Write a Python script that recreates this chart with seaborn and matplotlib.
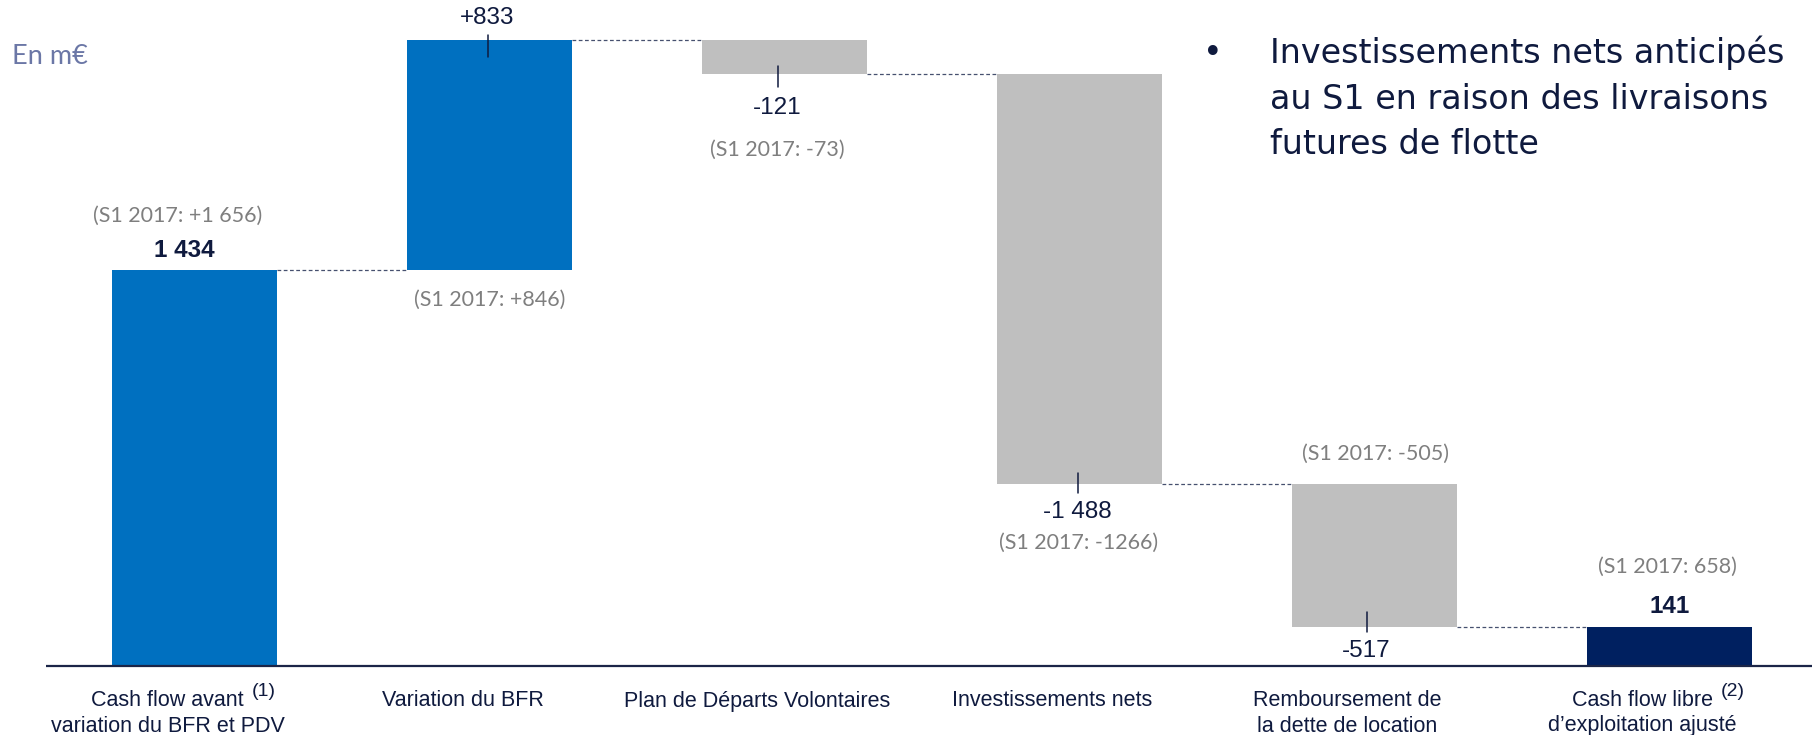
import matplotlib
matplotlib.use("Agg")
import matplotlib.pyplot as plt
import seaborn as sns
import numpy as np
import pandas as pd

# ---------------- data ----------------
cat_keys = ["cf_avant", "bfr", "pdv", "invest", "rembours", "cf_libre"]
cat_line1 = ["Cash flow avant", "Variation du BFR", "Plan de Départs Volontaires",
             "Investissements nets", "Remboursement de", "Cash flow libre"]
cat_line2 = ["variation du BFR et PDV", "", "", "", "la dette de location",
             "d’exploitation ajusté"]
footnotes = ["(1)", "", "", "", "", "(2)"]
values = [1434, 833, -121, -1488, -517, 141]
is_total = [True, False, False, False, False, True]
value_labels = ["1 434", "+833", "-121", "-1 488", "-517", "141"]
compare_labels = ["(S1 2017: +1 656)", "(S1 2017: +846)", "(S1 2017: -73)",
                  "(S1 2017: -1266)", "(S1 2017: -505)", "(S1 2017: 658)"]
unit_label = "En m€"
bullet_lines = ["Investissements nets anticipés",
                "au S1 en raison des livraisons",
                "futures de flotte"]

# ---------------- waterfall geometry from data ----------------
bottoms, heights, ends = [], [], []
running = 0
for v, tot in zip(values, is_total):
    if tot:
        bottoms.append(0); heights.append(v); running = v
    else:
        start, end = running, running + v
        bottoms.append(min(start, end)); heights.append(abs(v)); running = end
    ends.append(running)

BLUE, GREY, NAVY = "#0070C0", "#BFBFBF", "#002060"
colors = []
for i, (v, tot) in enumerate(zip(values, is_total)):
    if tot:
        colors.append(NAVY if i == len(values) - 1 else BLUE)
    else:
        colors.append(BLUE if v > 0 else GREY)

TXT = "#0F1A3E"
GRAYTXT = "#7F7F7F"

# ---------------- figure ----------------
W, H = 1812, 735
fig = plt.figure(figsize=(W / 100, H / 100), dpi=100)
sns.set_style("white")
plt.rcParams["font.family"] = ["Liberation Sans", "DejaVu Sans"]

base_px = 666          # baseline, px from top
ppu = 0.276            # px per unit
x0_px, step_px = 194.5, 295.0
bar_w = 165 / step_px

ax = fig.add_axes([0, (H - base_px) / H, 1, base_px / H])
df = pd.DataFrame({"cat": cat_keys, "height": heights})
sns.barplot(data=df, x="cat", y="height", bottom=bottoms, width=bar_w,
            color=BLUE, saturation=1, errorbar=None, linewidth=0, ax=ax)
for p, c in zip(ax.patches, colors):
    p.set_facecolor(c)
    p.set_edgecolor(c)

ax.set_xlim(-x0_px / step_px, (W - x0_px) / step_px)
ax.set_ylim(0, base_px / ppu)
ax.axis("off")

def dy(px):
    return px / ppu

# baseline
ax.plot([(46 - x0_px) / step_px, (W - x0_px) / step_px], [0, 0],
        color="#1B2547", lw=1.6, clip_on=False, solid_capstyle="butt")

# connectors
for i in range(len(values) - 1):
    ax.plot([i + bar_w / 2, i + 1 - bar_w / 2], [ends[i], ends[i]],
            color="#46506F", lw=0.9, linestyle=(0, (3, 2)))

# label layout (pixels): value label x-offset, y-offset from anchor edge
val_dx = [-10, -2, -7, -2, -8, 0]
val_dy = [20, 22, -34, -28, -24, 21]
cmp_dx = [-17, 0, -7, -1, 1, -2]
cmp_anchor = ["top", "bottom", "bottom", "bottom", "top", "top"]
cmp_dy = [54, -30, -76, -58, 31, 60]
tick_span = [None, (5, -17), (8, -13), (11, -9), (15, -5), None]

for i in range(len(values)):
    top = bottoms[i] + heights[i]
    bot = bottoms[i]
    up = is_total[i] or values[i] > 0
    anchor = top if up else bot
    bold = is_total[i]
    ax.annotate(value_labels[i], xy=(i, anchor), xytext=(val_dx[i], val_dy[i]),
                textcoords="offset pixels", ha="center", va="center",
                fontsize=17.5, color=TXT, fontweight="bold" if bold else "normal",
                family=["Liberation Sans", "DejaVu Sans"])
    ca = top if cmp_anchor[i] == "top" else bot
    ax.annotate(compare_labels[i], xy=(i, ca), xytext=(cmp_dx[i], cmp_dy[i]),
                textcoords="offset pixels", ha="center", va="center",
                fontsize=15.5, color=GRAYTXT, family=["Lato", "DejaVu Sans"])
    if tick_span[i] is not None:
        a, b = tick_span[i]
        xt = i + val_dx[i] / step_px
        ax.plot([xt, xt], [anchor + dy(a), anchor + dy(b)], color=TXT, lw=1.1)

# category labels
fig.canvas.draw()
renderer = fig.canvas.get_renderer()
for i in range(len(values)):
    t1 = ax.annotate(cat_line1[i], xy=(i, 0), xytext=(-27, -35),
                     textcoords="offset pixels", ha="center", va="center",
                     fontsize=15.5, color=TXT, annotation_clip=False)
    if cat_line2[i]:
        ax.annotate(cat_line2[i], xy=(i, 0), xytext=(-27, -60),
                    textcoords="offset pixels", ha="center", va="center",
                    fontsize=15.5, color=TXT, annotation_clip=False)
    if footnotes[i]:
        bb = t1.get_window_extent(renderer)
        fig.text(bb.x1 + 8, H - 692, footnotes[i], transform=None,
                 ha="left", va="center", fontsize=14, color=TXT)

# unit label
fig.text(12 / W, (H - 64) / H, unit_label, ha="left", va="baseline",
         fontsize=19.5, color="#6B77A6", family=["Lato", "DejaVu Sans"])

# bullet text
bullet_baselines = [63, 109, 154]
fig.text(1203 / W, (H - bullet_baselines[0]) / H, "•", ha="left", va="baseline",
         fontsize=24, color=TXT, family=["DejaVu Sans"])
for line, b in zip(bullet_lines, bullet_baselines):
    fig.text(1270 / W, (H - b) / H, line, ha="left", va="baseline",
             fontsize=24, color=TXT, family=["DejaVu Sans"])

fig.savefig("out.png", dpi=100)
